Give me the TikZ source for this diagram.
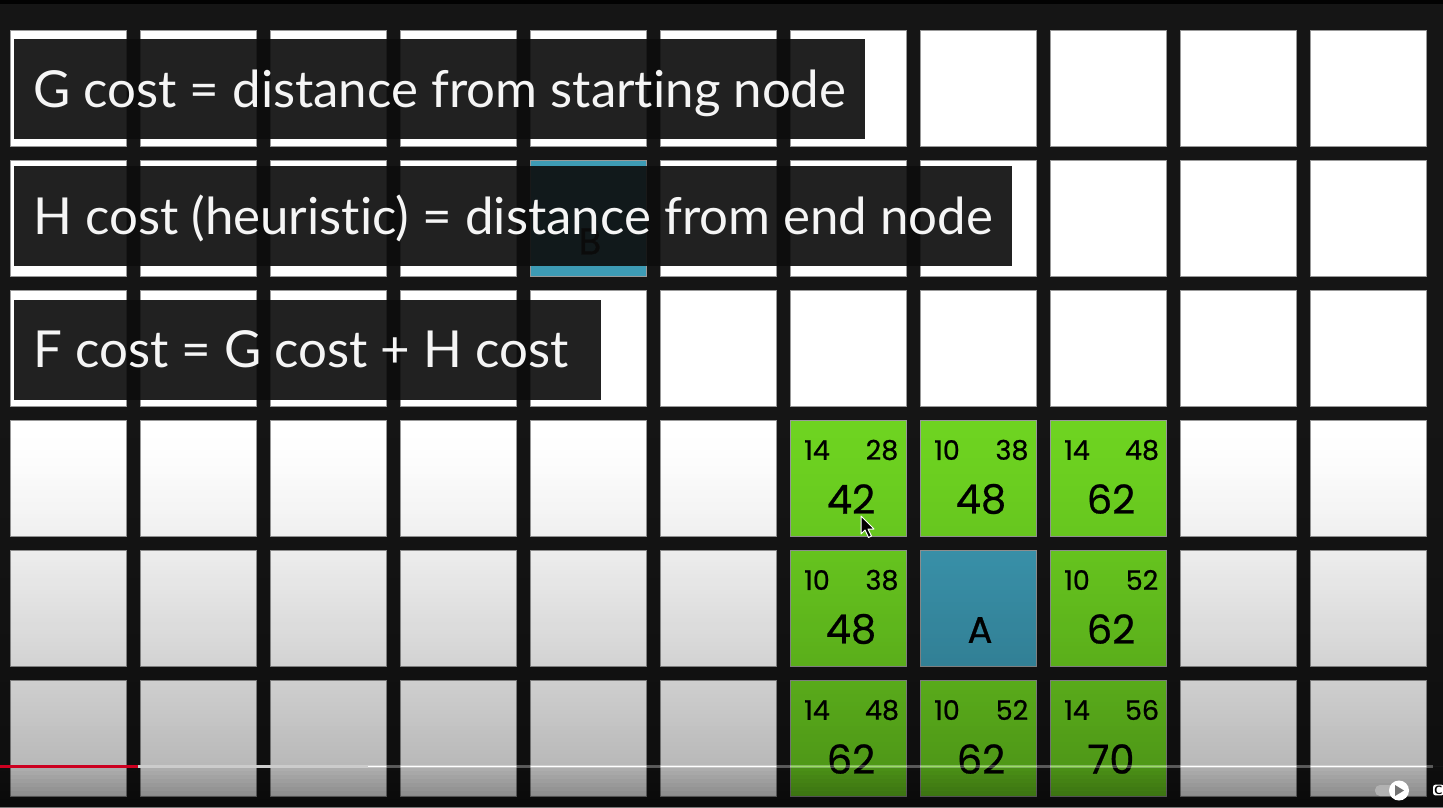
\documentclass[tikz,border=0pt]{standalone}
\usepackage{fontspec}
\setmainfont[Ligatures=CommonOff]{Lato}
\newfontfamily\numfont[FakeBold=0.7]{Poppins}
\usetikzlibrary{calc,positioning}
\definecolor{gridbg}{HTML}{151515}
\definecolor{boxbg}{HTML}{0D0D0D}
\definecolor{openg}{HTML}{6ED321}
\definecolor{endpt}{HTML}{3D9BB5}
\definecolor{ytred}{HTML}{CC0020}

\begin{document}
\begin{tikzpicture}[x=1pt,y=-1pt,
  cell/.style={draw=black!40,line width=0.8pt,fill=white,minimum size=116pt,inner sep=0pt},
  opencell/.style={cell,fill=openg},
  endcell/.style={cell,fill=endpt},
  gh/.style={font=\numfont\fontsize{27}{30}\selectfont},
  fc/.style={font=\numfont\fontsize{40}{44}\selectfont},
  letter/.style={font=\numfont\fontsize{37}{40}\selectfont},
  caption/.style={fill=boxbg,fill opacity=0.915,text opacity=1,text=white!96!black,anchor=west,
    inner xsep=19pt,minimum height=100pt,text height=36pt,text depth=0pt,font=\fontsize{51}{60}\selectfont}]
\clip (0,0) rectangle (1443,807);
\fill[gridbg] (0,0) rectangle (1443,807);
\fill[black!90!gridbg] (0,0) rectangle (1443,4);
% grid of squares
\foreach \c in {0,...,10}
  \foreach \r in {0,...,5}
    \node[cell] (c-\c-\r) at (68.5+130*\c,88.5+130*\r) {};
% start and end
\node[endcell] (b) at (c-4-1) {};
\node[letter,text=black] (bl) at ([shift={(1.5,23)}]b) {B};
\node[endcell] (a) at (c-7-4) {};
\node[letter,text=black] (al) at ([shift={(1.5,21.5)}]a) {A};
% open neighbours: col/row/G/H/F
\foreach \c/\r/\g/\h/\f in {6/3/14/28/42,7/3/10/38/48,8/3/14/48/62,6/4/10/38/48,8/4/10/52/62,6/5/14/48/62,7/5/10/52/62,8/5/14/56/70}{
  \node[opencell] (n-\c-\r) at (c-\c-\r) {};
  \node[gh] (g-\c-\r) at ([shift={(-31.5,-28.5)}]n-\c-\r) {\g};
  \node[gh] (h-\c-\r) at ([shift={(33.5,-28.5)}]n-\c-\r) {\h};
  \node[fc] (f-\c-\r) at ([shift={(2.5,20.5)}]n-\c-\r) {\f};
}
% captions
\node[caption] (gcost) at (14,89) {G cost = distance from starting node};
\node[caption] (hcost) at (14,216) {H cost (heuristic) = distance from end node};
\node[caption] (fcost) at (14,349.5) {F cost = G cost + H cost\hspace*{14pt}};
% player shade at the bottom
\foreach \k in {0,...,83}{
  \pgfmathsetmacro\op{0.28*(\k/84)^1.3}
  \fill[black,opacity=\op] (0,430+4*\k) rectangle (1443,434+4*\k);
}
\foreach \k in {0,...,10}{
  \pgfmathsetmacro\op{0.32+0.2*\k/10}
  \fill[black,opacity=\op] (0,767+4*\k) rectangle (1443,771+4*\k);
}
% progress bar
\coordinate (p0) at (0,766);
\coordinate (p1) at (138,766);
\coordinate (p2) at (368,766);
\coordinate (p3) at (1433,766);
\draw[white,opacity=0.3,line width=3pt] (p2) -- (p3);
\draw[white!80!black,line width=3pt] (p1) -- (p2);
\draw[ytred,line width=3pt] (p0) -- (p1);
% autoplay toggle and captions button
\fill[white!70!black,rounded corners=5pt] (1375,785) rectangle (1402,796);
\fill[white] (1399,790.5) circle (10);
\fill[black!55] (1395,785) -- (1395,796) -- (1404,790.5) -- cycle;
\node[fill=white,rounded corners=2pt,inner sep=1pt,anchor=west,font=\sffamily\bfseries\fontsize{12}{12}\selectfont] (cc) at (1433,790) {C};
% mouse pointer
\coordinate (tip) at (861,516);
\draw[white,fill=black,line width=1pt,line join=round] (tip) -- ++(0,18) -- ++(4,-4) -- ++(3.5,7.5) -- ++(3,-1.5) -- ++(-3.5,-7) -- ++(6,0) -- cycle;
\end{tikzpicture}
\end{document}
